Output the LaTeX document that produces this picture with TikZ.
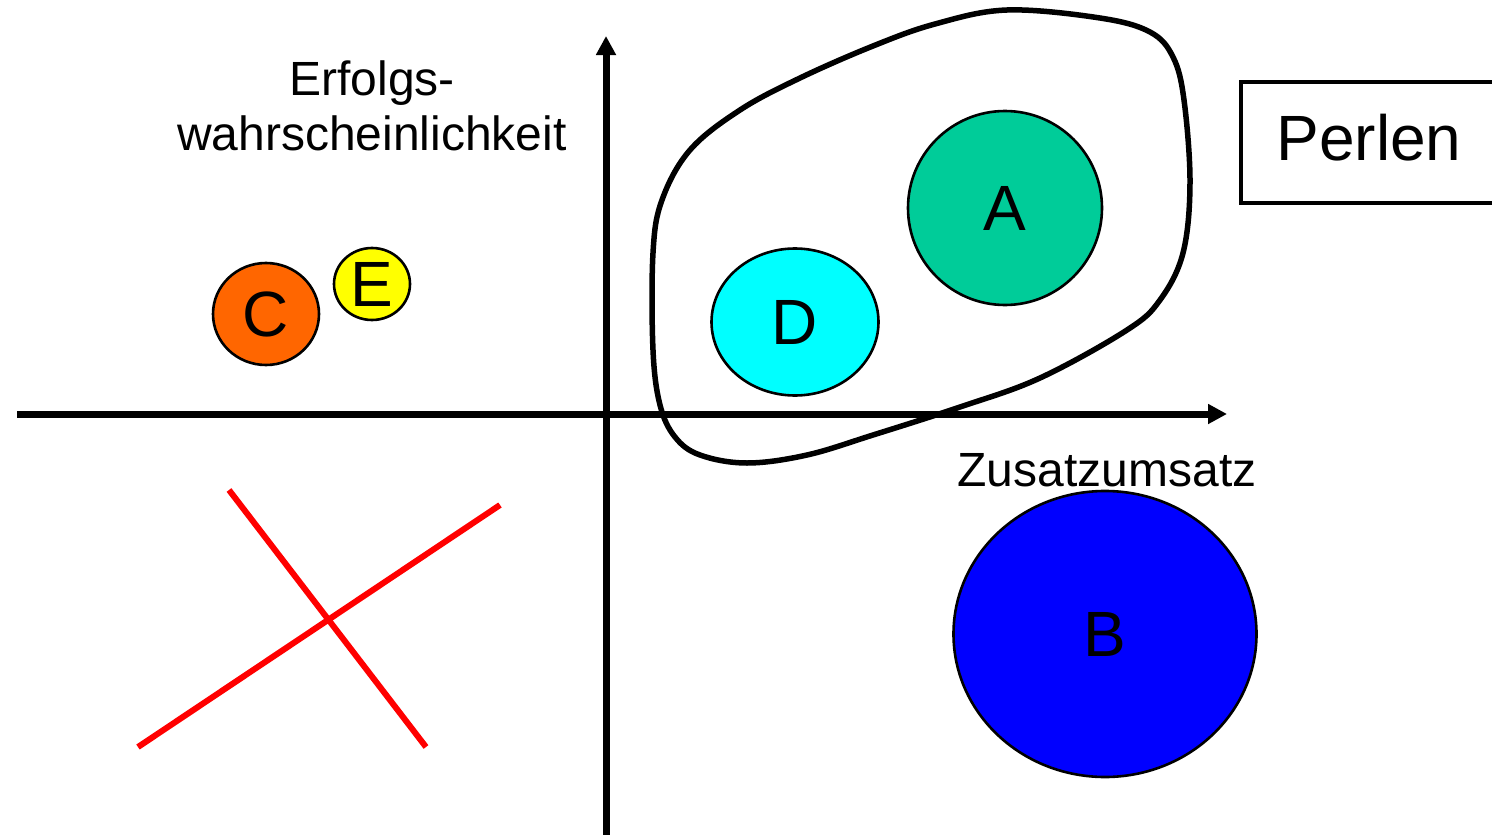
\documentclass[tikz,border=0pt]{standalone}
\usepackage{fontspec}
\setmainfont{Liberation Sans}
\usetikzlibrary{shapes.geometric,arrows.meta}
\definecolor{cA}{HTML}{00CC99}
\definecolor{cB}{HTML}{0000FF}
\definecolor{cC}{HTML}{FF6600}
\definecolor{cD}{HTML}{00FFFF}
\definecolor{cE}{HTML}{FFFF00}
\tikzset{
  axis/.style={line width=7pt,-{Triangle[length=19pt,width=19pt]}},
  bubble/.style={ellipse,draw,line width=2.6pt,inner sep=0pt,font=\fontsize{64}{70}\selectfont},
  lbl/.style={font=\fontsize{48}{55}\selectfont,inner sep=0pt,align=center},
  cross/.style={line width=6pt,draw=red},
  blob/.style={line width=5.5pt}
}
\begin{document}
\begin{tikzpicture}[x=1pt,y=-1pt]
\useasboundingbox (0,0) rectangle (1492,835);
% coordinates for axes
\coordinate (xs) at (17,414);
\coordinate (xe) at (1227,414);
\coordinate (ys) at (606,840);
\coordinate (ye) at (606,36);
\draw[axis] (xs) -- (xe);
\draw[axis] (ys) -- (ye);
% blob
\draw[blob] plot[smooth cycle,tension=0.6] coordinates {
 (1007,10) (1100,18) (1150,32) (1173,57) (1184,100) (1190,183) (1183,253)
 (1160,300) (1127,330) (1040,378) (960,407) (873,435) (807,455) (747,463)
 (700,455) (675,437) (660,405) (653,350) (653,253) (662,200) (690,150)
 (740,110) (800,78) (873,46) (935,24)};
% bubbles
\node[bubble,fill=cA,minimum width=194pt,minimum height=194pt] (A) at (1005,208) {A};
\node[bubble,fill=cD,minimum width=167pt,minimum height=147pt] (D) at (795,322) {D};
\node[bubble,fill=cC,minimum width=106pt,minimum height=102pt] (C) at (266,314) {C};
\node[bubble,fill=cE,minimum width=76pt,minimum height=72pt] (E) at (372,284) {E};
\node[bubble,fill=cB,minimum width=303pt,minimum height=286pt] (B) at (1105,634) {B};
% labels
\node[lbl] (ylab) at (372,106) {Erfolgs-\\wahrscheinlichkeit};
\node[lbl] (xlab) at (1107,470) {Zusatzumsatz};
\node[draw,line width=3.5pt,minimum width=256pt,minimum height=121pt,inner sep=0pt,
      font=\fontsize{64}{70}\selectfont] (P) at (1369,142.5) {\raisebox{10pt}{Perlen}};
% red cross
\coordinate (r1a) at (229,490);
\coordinate (r1b) at (426,747);
\coordinate (r2a) at (500,505);
\coordinate (r2b) at (138,747);
\draw[cross] (r1a) -- (r1b);
\draw[cross] (r2a) -- (r2b);
\end{tikzpicture}
\end{document}
